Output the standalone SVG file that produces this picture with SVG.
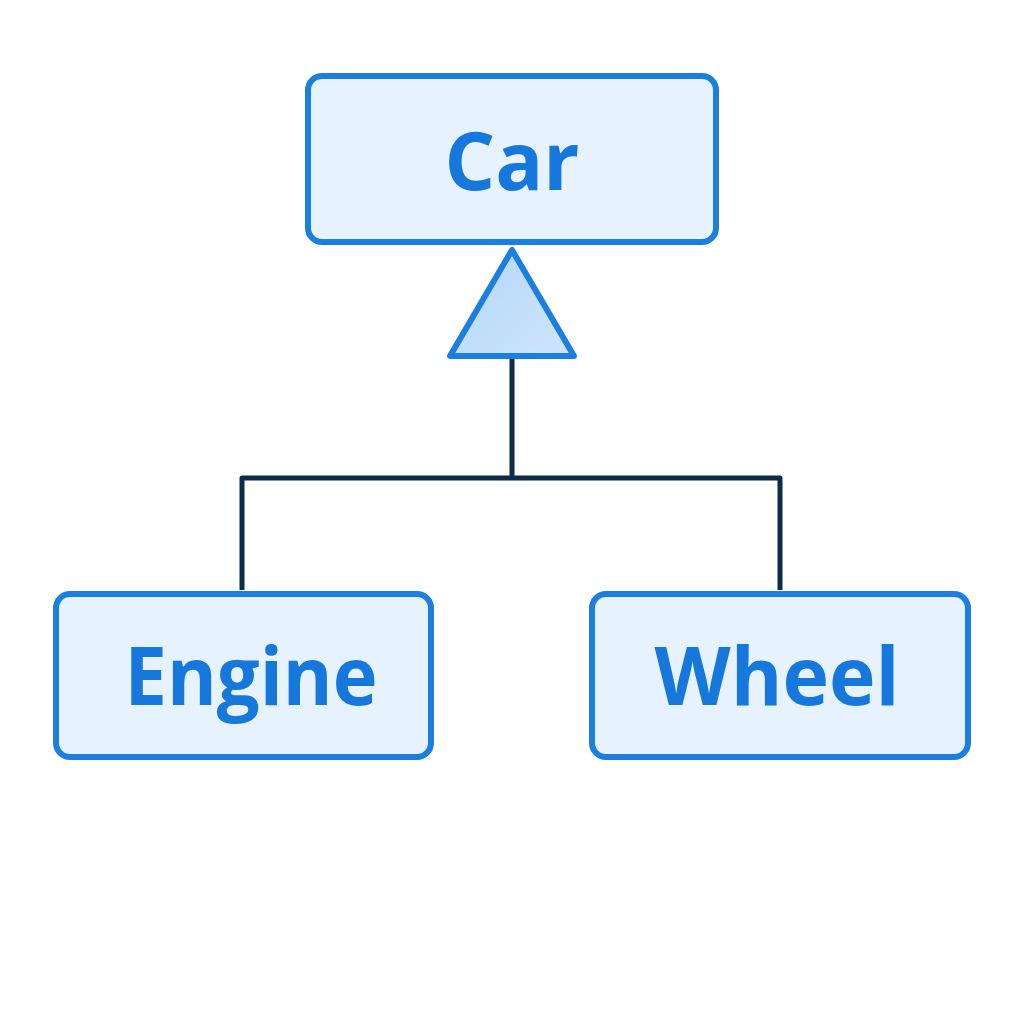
<svg xmlns="http://www.w3.org/2000/svg" width="1024" height="1024" viewBox="0 0 1024 1024">
<defs>
<linearGradient id="tri" x1="0" y1="0" x2="1" y2="1">
<stop offset="0" stop-color="#b3d6f8"/>
<stop offset="1" stop-color="#cfe5fb"/>
</linearGradient>
<style>
.box{fill:#e6f2fd;stroke:#1a7fe0;stroke-width:6}
.lbl{font-family:"Open Sans","Liberation Sans",sans-serif;font-weight:bold;font-size:80px;fill:#1677dd;text-anchor:middle}
.conn{fill:none;stroke:#0d2b4a;stroke-width:5;stroke-linejoin:round}
</style>
</defs>
<rect width="1024" height="1024" fill="#ffffff"/>
<g id="connectors">
<path class="conn" d="M512,356 V478 M242,590 V478 H780 V590"/>
<polygon points="512,250 450,356 574,356" fill="url(#tri)" stroke="#1a7fe0" stroke-width="6" stroke-linejoin="round"/>
</g>
<g id="car">
<rect class="box" x="308" y="76" width="408" height="166" rx="14"/>
<text class="lbl" x="512" y="190" textLength="135" lengthAdjust="spacingAndGlyphs">Car</text>
</g>
<g id="engine">
<rect class="box" x="56" y="594" width="375" height="163" rx="14"/>
<text class="lbl" x="251" y="705" textLength="253" lengthAdjust="spacingAndGlyphs">Engine</text>
</g>
<g id="wheel">
<rect class="box" x="592" y="594" width="376" height="163" rx="14"/>
<text class="lbl" x="777" y="705" textLength="245" lengthAdjust="spacingAndGlyphs">Wheel</text>
</g>
</svg>
